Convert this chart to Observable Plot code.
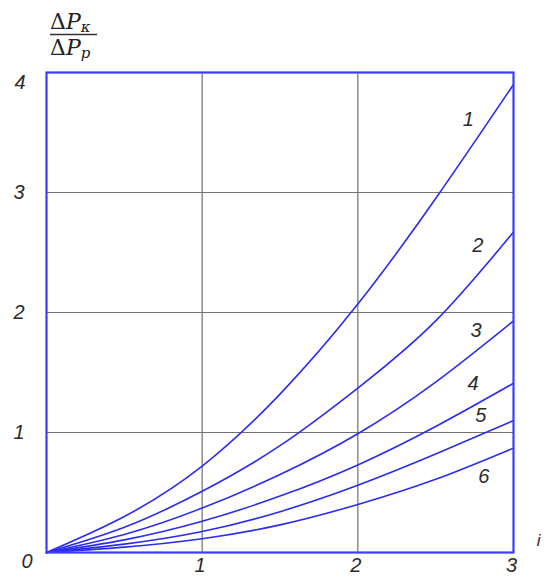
<!DOCTYPE html>
<html><head><meta charset="utf-8">
<script src="https://cdn.jsdelivr.net/npm/d3@7"></script>
<script src="https://cdn.jsdelivr.net/npm/@observablehq/plot@0.6"></script>
<style>body{margin:0;background:#fff}</style>
</head><body><div id="chart"></div>
<script>
// ratio i (x) sample points
const xs = [0, 0.5, 1, 1.5, 2, 2.5, 3];
// ΔPк/ΔPp for curves 1..6
const curve1 = [0, 0.30, 0.72, 1.32, 2.07, 2.95, 3.90];
const curve2 = [0, 0.21, 0.51, 0.89, 1.37, 1.93, 2.67];
const curve3 = [0, 0.15, 0.37, 0.65, 0.99, 1.42, 1.93];
const curve4 = [0, 0.105, 0.26, 0.47, 0.73, 1.05, 1.41];
const curve5 = [0, 0.07, 0.175, 0.34, 0.56, 0.82, 1.10];
const curve6 = [0, 0.045, 0.115, 0.23, 0.40, 0.61, 0.87];
const curveNames = ["1", "2", "3", "4", "5", "6"];
// label anchor points (data units)
const labelX = [2.71, 2.77, 2.76, 2.74, 2.79, 2.81];
const labelY = [3.61, 2.56, 1.85, 1.41, 1.14, 0.63];
const xTicks = [1, 2, 3];
const yTicks = [1, 2, 3];
const yTopTick = [4];
const gridXs = [1, 2];
const gridYs = [1, 2, 3];

const allCurves = [curve1, curve2, curve3, curve4, curve5, curve6];
const data = allCurves.flatMap((ys, i) => xs.map((x, j) => ({x, y: ys[j], s: curveNames[i]})));
const labels = curveNames.map((t, i) => ({t, x: labelX[i], y: labelY[i]}));

const ink = "#2b2b2b";
const fs = 20;
const chart = Plot.plot({
  width: 544, height: 580,
  marginLeft: 46, marginRight: 31, marginTop: 72, marginBottom: 28,
  x: {domain: [0, 3], label: null, tickFormat: d3.format("d")},
  y: {domain: [0, 4], label: null, tickFormat: d3.format("d")},
  style: {fontFamily: "Liberation Sans", fontStyle: "italic", fontSize: fs + "px", color: ink, background: "#fff"},
  marks: [
    Plot.gridX(gridXs, {stroke: "#707070", strokeOpacity: 1, strokeWidth: 1.2}),
    Plot.gridY(gridYs, {stroke: "#707070", strokeOpacity: 1, strokeWidth: 1.2}),
    Plot.line(data, {x: "x", y: "y", z: "s", stroke: "#2c2cf0", strokeWidth: 1.6, curve: "natural"}),
    Plot.frame({stroke: "#3c3cff", strokeWidth: 2.2}),
    Plot.axisX(xTicks, {tickSize: 0, tickPadding: 5, dx: -2, fontSize: fs, fill: ink, tickFormat: d3.format("d")}),
    Plot.axisY(yTicks, {tickSize: 0, tickPadding: 22, fontSize: fs, fill: ink, tickFormat: d3.format("d")}),
    Plot.axisY(yTopTick, {tickSize: 0, tickPadding: 21, dy: 10, fontSize: fs, fill: ink, tickFormat: d3.format("d")}),
    Plot.text(["0"], {frameAnchor: "bottom-left", dx: -25, dy: 15, fontSize: fs, fill: ink}),
    Plot.text(["i"], {frameAnchor: "bottom-right", dx: 27, dy: -7, fontSize: 17, fill: ink}),
    Plot.text(labels, {x: "x", y: "y", text: "t", fontSize: fs, fill: ink})
  ]
});
document.getElementById("chart").appendChild(chart);

// y-axis title as a fraction ΔPк / ΔPp
const svg = d3.select(chart);
const g = svg.append("g")
  .attr("font-family", "DejaVu Serif")
  .attr("font-style", "normal")
  .attr("text-anchor", "start")
  .attr("font-size", 22)
  .attr("fill", "#222");
const num = g.append("text").attr("x", 50).attr("y", 29);
num.append("tspan").text("Δ");
num.append("tspan").attr("font-style", "italic").text("P");
num.append("tspan").attr("font-style", "italic").attr("font-size", 15).attr("dy", 3).text("κ");
g.append("line").attr("x1", 50).attr("x2", 97).attr("y1", 34.5).attr("y2", 34.5)
  .attr("stroke", "#333").attr("stroke-width", 1.4);
const den = g.append("text").attr("x", 50).attr("y", 55);
den.append("tspan").text("Δ");
den.append("tspan").attr("font-style", "italic").text("P");
den.append("tspan").attr("font-style", "italic").attr("font-size", 15).attr("dy", 3).text("p");
</script>
</body></html>
